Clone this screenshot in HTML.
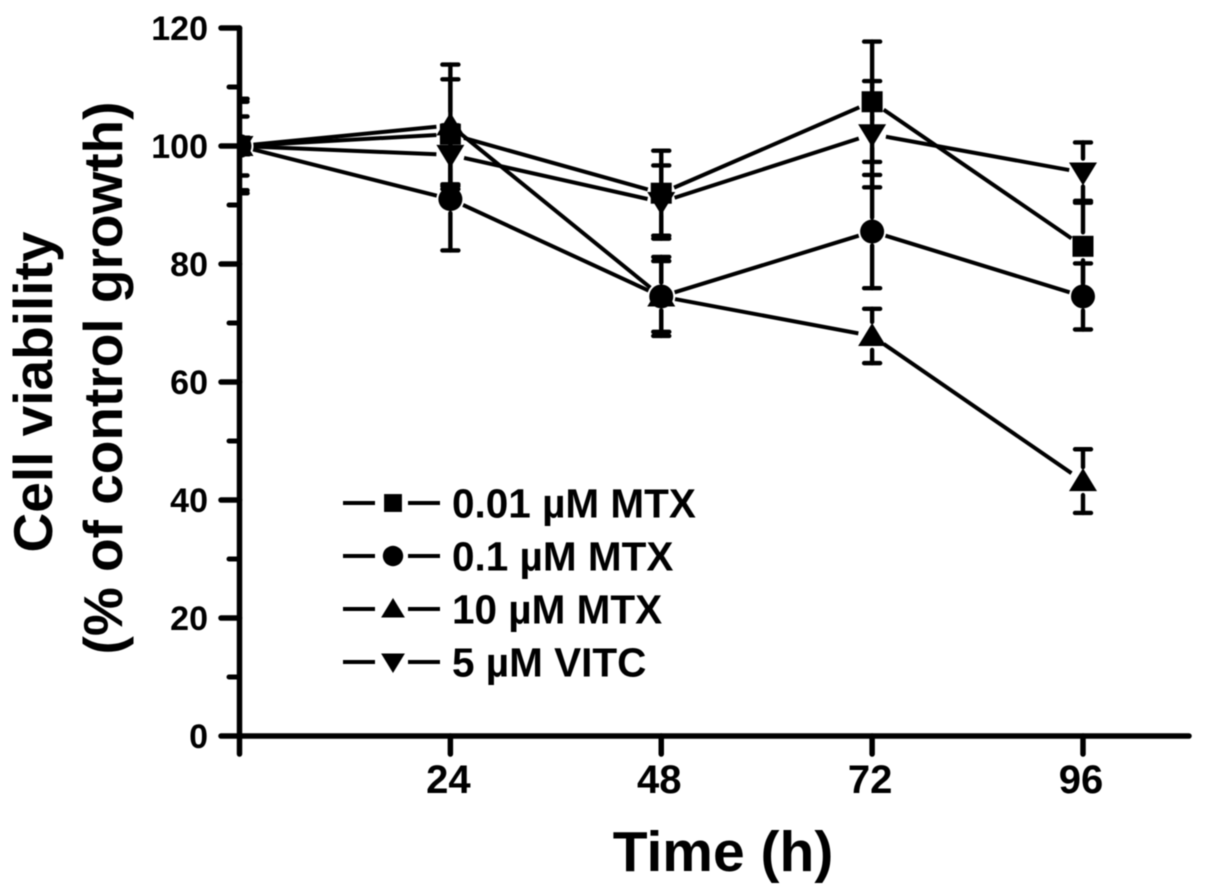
<!DOCTYPE html>
<html lang="en">
<head>
<meta charset="utf-8">
<title>Cell viability over time</title>
<style>
html,body{margin:0;padding:0;background:#fff;width:1205px;height:895px;overflow:hidden}
svg{display:block;filter:blur(0.6px)}
text{font-family:"Liberation Sans",Arial,sans-serif;font-weight:bold;fill:#000}
</style>
</head>
<body>
<svg id="chart" xmlns="http://www.w3.org/2000/svg" width="1205" height="895" viewBox="0 0 1205 895">
<defs><clipPath id="plot-clip"><rect x="238" y="0" width="967" height="895"/></clipPath></defs>
<rect x="0" y="0" width="1205" height="895" fill="#fff"/>
<text transform="translate(52,392) rotate(-90)" text-anchor="middle" font-size="55">Cell viability</text>
<text transform="translate(122,378) rotate(-90)" text-anchor="middle" font-size="55">(% of control growth)</text>
<text x="723" y="871" text-anchor="middle" font-size="57">Time (h)</text>
</svg>
<script>
const hours = [0, 24, 48, 72, 96];
const seriesNames = ['0.01 µM MTX', '0.1 µM MTX', '10 µM MTX', '5 µM VITC'];
const seriesShapes = ['square', 'circle', 'triangle-up', 'triangle-down'];
const mtx001Values = [100, 102, 92, 107.5, 83];
const mtx01Values = [100, 91, 74.5, 85.5, 74.5];
const mtx10Values = [100, 103.5, 74.5, 67.8, 43.2];
const vitcValues = [100, 98.5, 90.5, 102, 95.5];
const mtx001Errors = [8, 9.3, 7.2, 10.2, 7.7];
const mtx01Errors = [7.5, 8.7, 6.7, 9.6, 5.6];
const mtx10Errors = [5, 10.3, 6, 4.6, 5.4];
const vitcErrors = [8, 5, 6.2, 9, 5.1];
const yMajorTicks = [0, 20, 40, 60, 80, 100, 120];
const yMinorTicks = [10, 30, 50, 70, 90, 110];
const xTickLabels = [24, 48, 72, 96];

const allValues = [mtx001Values, mtx01Values, mtx10Values, vitcValues];
const allErrors = [mtx001Errors, mtx01Errors, mtx10Errors, vitcErrors];

const svg = document.getElementById('chart');
const NS = 'http://www.w3.org/2000/svg';
const xScale = function (t) { return 239.5 + t * (1083 - 239.5) / 96; };
const yScale = function (v) { return 736 - v * (736 - 28) / 120; };

function make(tag, parent, attrs) {
  const el = document.createElementNS(NS, tag);
  for (const k in attrs) el.setAttribute(k, attrs[k]);
  parent.appendChild(el);
  return el;
}
function line(parent, x1, y1, x2, y2, w) {
  return make('line', parent, { x1: x1, y1: y1, x2: x2, y2: y2, stroke: '#000', 'stroke-width': w, 'stroke-linecap': 'round' });
}
function marker(parent, shape, cx, cy, s) {
  if (shape === 'square') {
    return make('rect', parent, { x: cx - s * 10.5, y: cy - s * 10.5, width: s * 21, height: s * 21, fill: '#000' });
  }
  if (shape === 'circle') {
    return make('circle', parent, { cx: cx, cy: cy, r: s * 12, fill: '#000' });
  }
  if (shape === 'triangle-up') {
    return make('polygon', parent, { points: (cx - s * 14) + ',' + (cy + s * 10) + ' ' + (cx + s * 14) + ',' + (cy + s * 10) + ' ' + cx + ',' + (cy - s * 13), fill: '#000' });
  }
  return make('polygon', parent, { points: (cx - s * 14) + ',' + (cy - s * 10) + ' ' + (cx + s * 14) + ',' + (cy - s * 10) + ' ' + cx + ',' + (cy + s * 13), fill: '#000' });
}

/* axes */
const axes = make('g', svg, {});



const yAxisLine = line(axes, xScale(0), yScale(120), xScale(0), 754, 5.5);



const xAxisLine = line(axes, xScale(0), yScale(0), 1189, yScale(0), 5.5);



yMajorTicks.forEach(function (v) {
  const tick = line(axes, 221, yScale(v), xScale(0), yScale(v), 5.5);
  
  
  const label = make('text', axes, { x: 208, y: yScale(v) + 12, 'text-anchor': 'end', 'font-size': 34 });
  label.textContent = String(v);
  
  
});
yMinorTicks.forEach(function (v) {
  const tick = line(axes, 229, yScale(v), xScale(0), yScale(v), 5);
  
  
});
xTickLabels.forEach(function (t) {
  const tick = line(axes, xScale(t), yScale(0), xScale(t), 754, 5.5);
  
  
  const label = make('text', axes, { x: xScale(t) - 2, y: 793, 'text-anchor': 'middle', 'font-size': 40 });
  label.textContent = String(t);
  
  
});

/* series */
const STEM_GAP = 14;
const LINE_GAP = 14;
seriesNames.forEach(function (name, i) {
  const values = allValues[i];
  const errors = allErrors[i];
  const group = make('g', svg, { 'clip-path': 'url(#plot-clip)' });
  
  

  hours.forEach(function (t, j) {
    const cx = xScale(t);
    const cy = yScale(values[j]);
    const top = yScale(values[j] + errors[j]);
    const bottom = yScale(values[j] - errors[j]);
    const bars = make('g', group, {});
    
    
    line(bars, cx, top, cx, Math.min(bottom, cy - STEM_GAP), 4.4);
    line(bars, cx, Math.max(top, cy + STEM_GAP), cx, bottom, 4.4);
    line(bars, cx - 8, top, cx + 8, top, 4.4);
    line(bars, cx - 8, bottom, cx + 8, bottom, 4.4);
  });

  for (let j = 0; j < hours.length - 1; j++) {
    const x1 = xScale(hours[j]);
    const y1 = yScale(values[j]);
    const x2 = xScale(hours[j + 1]);
    const y2 = yScale(values[j + 1]);
    const len = Math.hypot(x2 - x1, y2 - y1);
    const ux = (x2 - x1) / len;
    const uy = (y2 - y1) / len;
    const seg = make('line', group, {
      x1: x1 + ux * LINE_GAP, y1: y1 + uy * LINE_GAP,
      x2: x2 - ux * LINE_GAP, y2: y2 - uy * LINE_GAP,
      stroke: '#000', 'stroke-width': 4
    });
    
    
  }

  hours.forEach(function (t, j) {
    const m = marker(group, seriesShapes[i], xScale(t), yScale(values[j]), 1);
    
    
  });
});

/* legend */
const legend = make('g', svg, {});


seriesNames.forEach(function (name, i) {
  const ly = 503 + i * 53;
  const entry = make('g', legend, {});
  
  
  make('line', entry, { x1: 343, y1: ly, x2: 375, y2: ly, stroke: '#000', 'stroke-width': 4 });
  make('line', entry, { x1: 408, y1: ly, x2: 440, y2: ly, stroke: '#000', 'stroke-width': 4 });
  marker(entry, seriesShapes[i], 393, ly, 0.85);
  const label = make('text', entry, { x: 452, y: ly + 14.5, 'font-size': 40.5 });
  label.textContent = name;
  
  
});
</script>
</body>
</html>
